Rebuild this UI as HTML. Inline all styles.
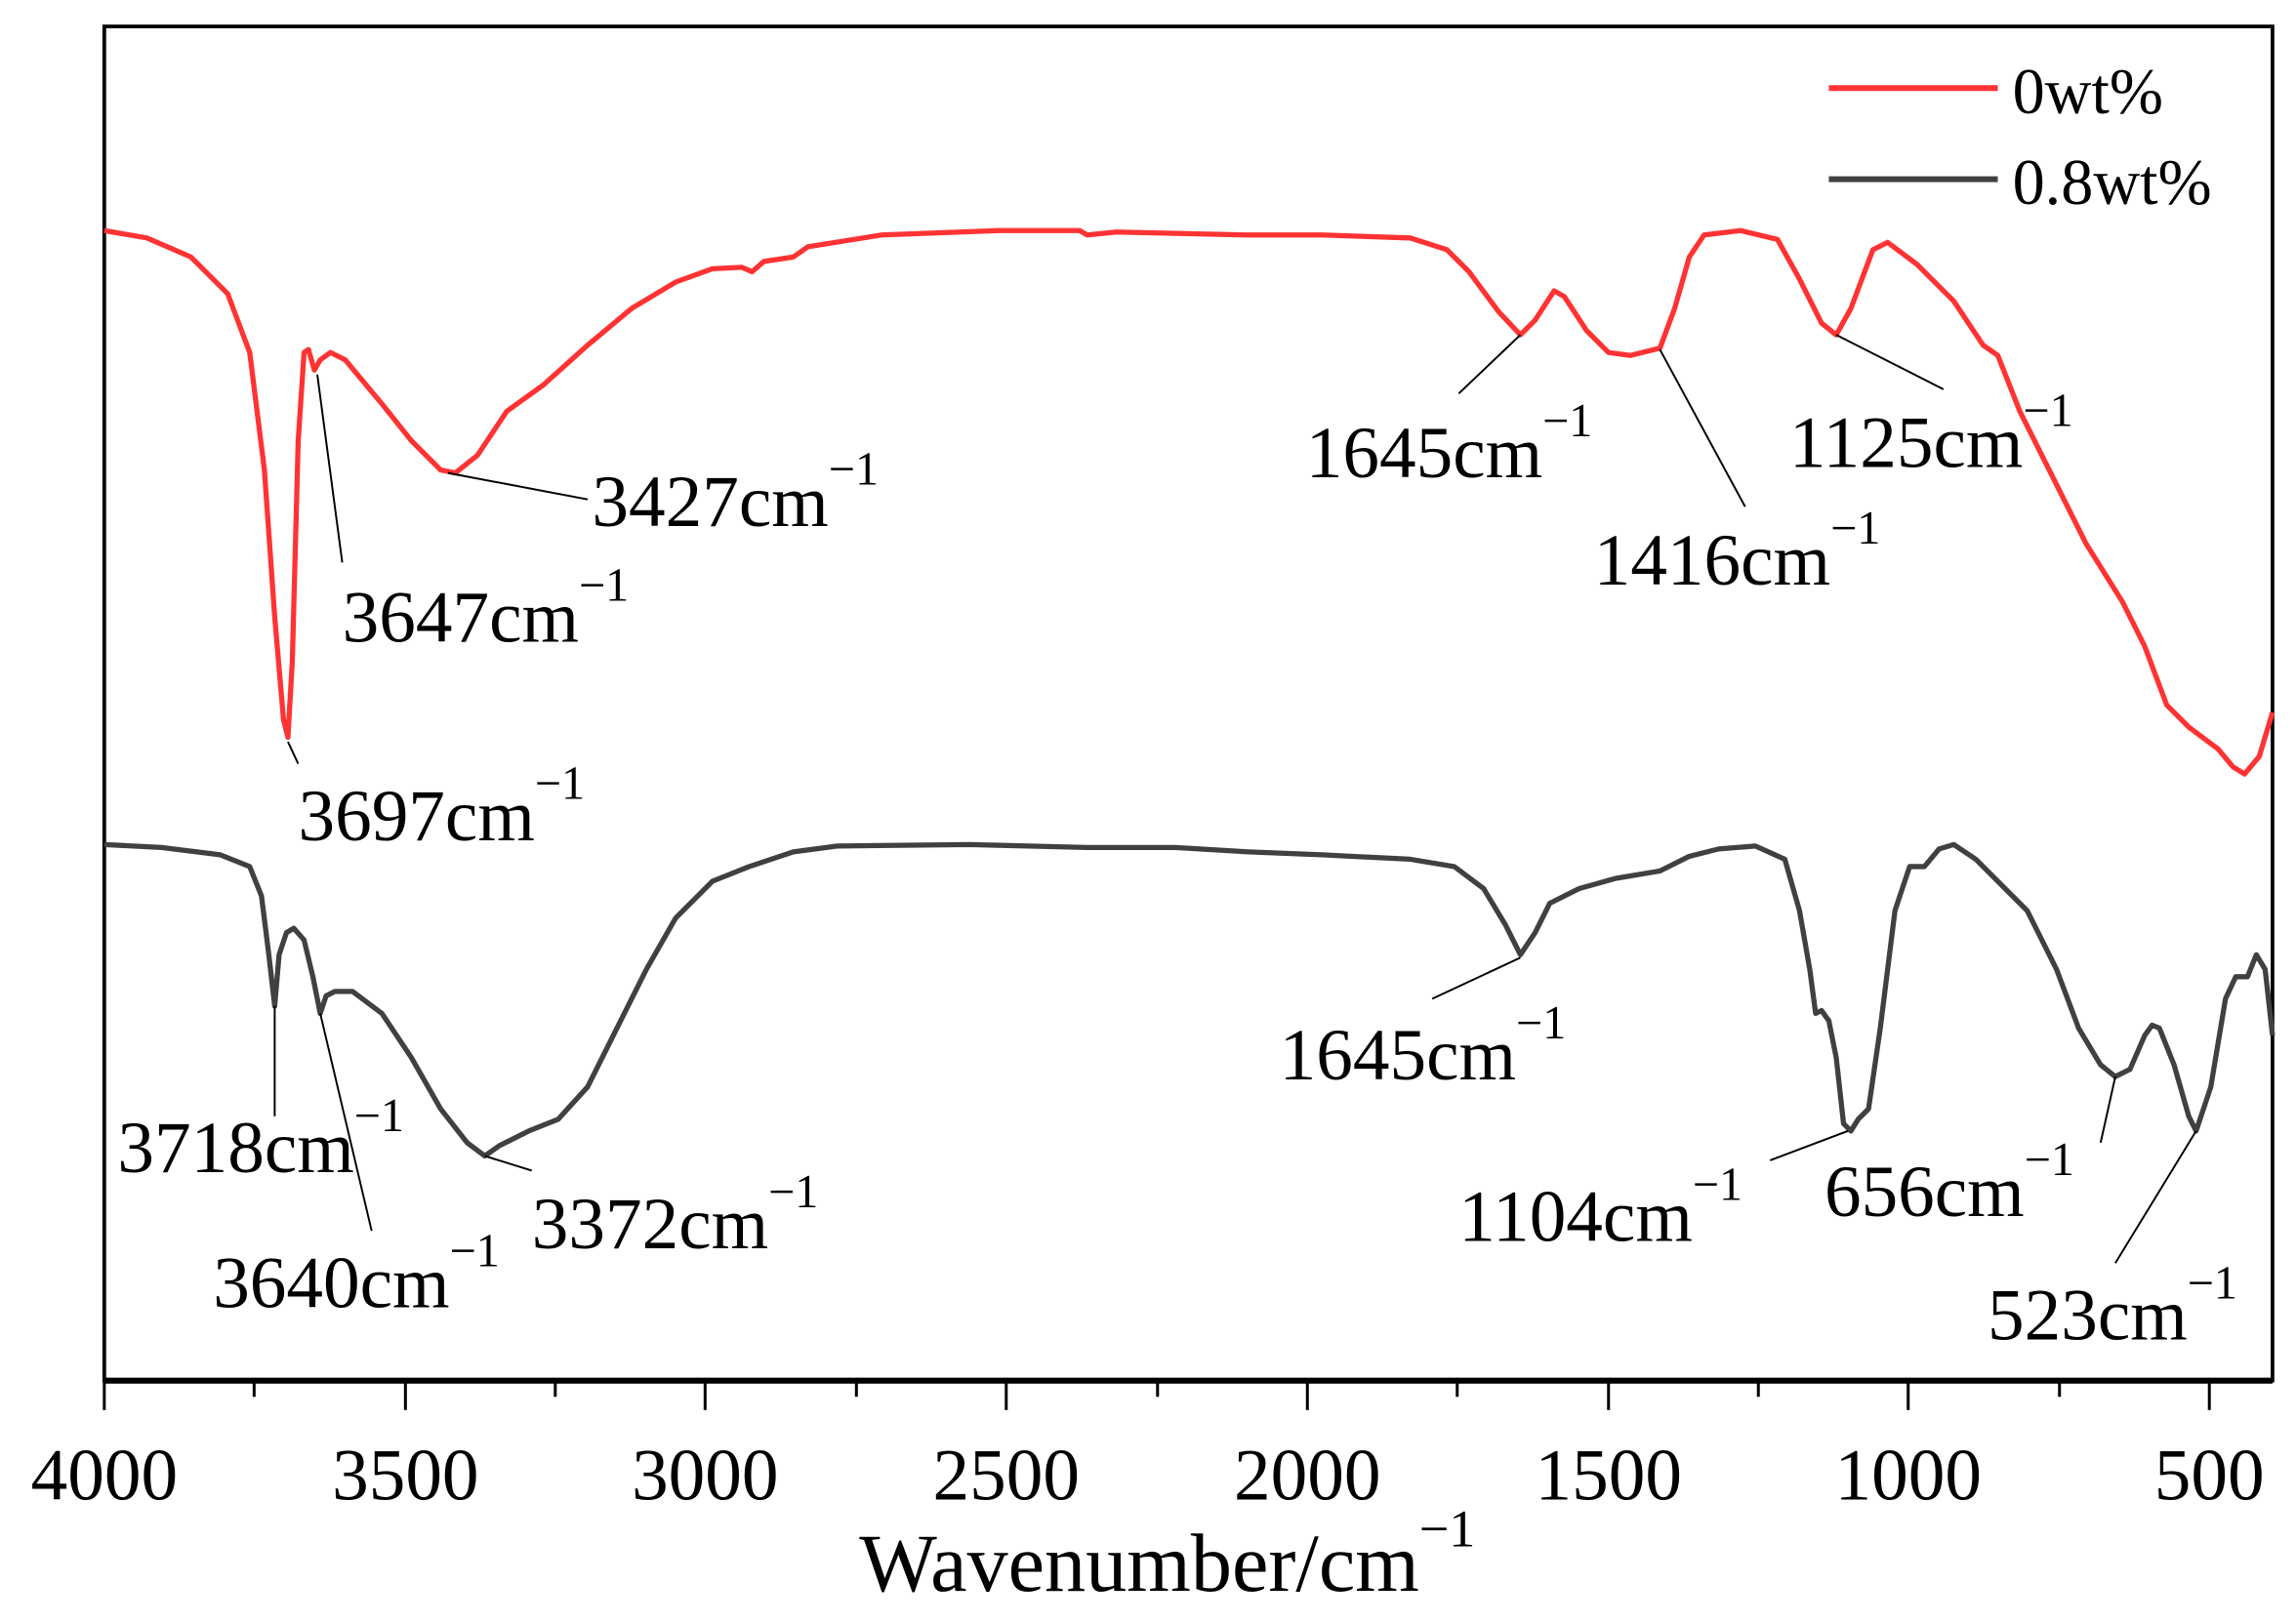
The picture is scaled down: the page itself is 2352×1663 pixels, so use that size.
<!DOCTYPE html>
<html><head><meta charset="utf-8"><style>
html,body{margin:0;padding:0;background:#fff;}
svg{display:block;}
text{font-family:"Liberation Serif",serif;fill:#000;}
</style></head><body>
<svg width="2352" height="1663" viewBox="0 0 1563 1105" preserveAspectRatio="none" xmlns="http://www.w3.org/2000/svg">
<rect x="71" y="18" width="1476" height="922" fill="none" stroke="#000" stroke-width="2.5"/>
<line x1="71" y1="940" x2="1547" y2="940" stroke="#000" stroke-width="4"/>
<g stroke="#000" stroke-width="2">
<line x1="71" y1="940" x2="71" y2="960"/><line x1="173" y1="940" x2="173" y2="951"/>
<line x1="276" y1="940" x2="276" y2="960"/><line x1="378" y1="940" x2="378" y2="951"/>
<line x1="480" y1="940" x2="480" y2="960"/><line x1="583" y1="940" x2="583" y2="951"/>
<line x1="685" y1="940" x2="685" y2="960"/><line x1="788" y1="940" x2="788" y2="951"/>
<line x1="890" y1="940" x2="890" y2="960"/><line x1="992" y1="940" x2="992" y2="951"/>
<line x1="1095" y1="940" x2="1095" y2="960"/><line x1="1197" y1="940" x2="1197" y2="951"/>
<line x1="1299" y1="940" x2="1299" y2="960"/><line x1="1402" y1="940" x2="1402" y2="951"/>
<line x1="1504" y1="940" x2="1504" y2="960"/>
</g>
<g font-size="50" text-anchor="middle">
<text x="71" y="1021">4000</text><text x="276" y="1021">3500</text><text x="480" y="1021">3000</text>
<text x="685" y="1021">2500</text><text x="890" y="1021">2000</text><text x="1095" y="1021">1500</text>
<text x="1299" y="1021">1000</text><text x="1504" y="1021">500</text>
</g>
<text x="585" y="1083" font-size="56">Wavenumber/cm<tspan font-size="36" dy="-30">−1</tspan></text>

<line x1="1245" y1="60" x2="1360" y2="60" stroke="#f33" stroke-width="4"/>
<text x="1370" y="77" font-size="44">0wt%</text>
<line x1="1245" y1="122" x2="1360" y2="122" stroke="#404040" stroke-width="4"/>
<text x="1370" y="139" font-size="44">0.8wt%</text>

<polyline fill="none" stroke="#f33" stroke-width="3.5" stroke-linejoin="round" points="71,157 100,162 130,175 155,200 170,240 180,320 187,420 193,490 196,502 199,450 203,300 207,240 210,238 214,252 218,245 225,240 235,245 260,275 280,300 300,320 310,322 325,310 345,280 370,262 400,235 430,210 460,192 485,183 505,182 512,185 520,178 540,175 550,168 600,160 680,157 735,157 740,160 760,158 850,160 900,160 960,162 985,170 1000,185 1020,212 1035,228 1045,218 1058,198 1065,202 1080,225 1095,240 1110,242 1130,237 1140,210 1150,175 1160,160 1185,157 1210,163 1225,190 1240,220 1250,228 1260,210 1275,170 1285,165 1305,180 1330,205 1350,235 1360,242 1375,280 1395,320 1420,370 1445,410 1460,440 1475,480 1490,495 1510,510 1520,522 1528,527 1538,515 1547,485"/>
<polyline fill="none" stroke="#404040" stroke-width="3.5" stroke-linejoin="round" points="71,575 110,577 150,582 170,590 178,610 183,650 187,685 190,650 195,635 200,632 207,640 213,665 218,690 222,678 228,675 240,675 260,690 280,720 300,755 318,778 330,787 340,780 360,770 380,762 400,740 420,700 440,660 460,625 485,600 510,590 540,580 570,576 660,575 700,576 740,577 800,577 850,580 900,582 960,585 990,590 1010,605 1025,630 1035,650 1045,635 1055,615 1075,605 1100,598 1130,593 1150,583 1170,578 1195,576 1215,585 1225,620 1232,660 1236,690 1240,688 1245,695 1250,720 1255,765 1260,770 1265,762 1272,755 1280,700 1290,620 1300,590 1310,590 1320,578 1330,575 1345,585 1360,600 1380,620 1400,660 1415,700 1430,725 1440,733 1450,728 1460,705 1465,698 1470,700 1480,725 1490,760 1495,770 1505,740 1515,680 1522,665 1530,665 1536,650 1542,660 1547,705"/>

<g stroke="#000" stroke-width="1.3">
<line x1="196" y1="505" x2="203" y2="520"/>
<line x1="216" y1="255" x2="233" y2="383"/>
<line x1="305" y1="322" x2="400" y2="340"/>
<line x1="1035" y1="228" x2="993" y2="268"/>
<line x1="1130" y1="238" x2="1188" y2="345"/>
<line x1="1250" y1="228" x2="1323" y2="265"/>
<line x1="187" y1="685" x2="187" y2="760"/>
<line x1="218" y1="690" x2="253" y2="838"/>
<line x1="330" y1="787" x2="362" y2="797"/>
<line x1="1035" y1="652" x2="975" y2="680"/>
<line x1="1258" y1="770" x2="1205" y2="790"/>
<line x1="1440" y1="733" x2="1430" y2="778"/>
<line x1="1495" y1="770" x2="1440" y2="860"/>
</g>
<g font-size="50">
<text x="203" y="572">3697cm<tspan font-size="32" dy="-28">−1</tspan></text>
<text x="233" y="437">3647cm<tspan font-size="32" dy="-28">−1</tspan></text>
<text x="403" y="358">3427cm<tspan font-size="32" dy="-28">−1</tspan></text>
<text x="889" y="325">1645cm<tspan font-size="32" dy="-28">−1</tspan></text>
<text x="1085" y="398">1416cm<tspan font-size="32" dy="-28">−1</tspan></text>
<text x="1218" y="318">1125cm<tspan font-size="32" dy="-28">−1</tspan></text>
<text x="80" y="798">3718cm<tspan font-size="32" dy="-28">−1</tspan></text>
<text x="145" y="890">3640cm<tspan font-size="32" dy="-28">−1</tspan></text>
<text x="362" y="850">3372cm<tspan font-size="32" dy="-28">−1</tspan></text>
<text x="871" y="735">1645cm<tspan font-size="32" dy="-28">−1</tspan></text>
<text x="993" y="845">1104cm<tspan font-size="32" dy="-28">−1</tspan></text>
<text x="1242" y="828">656cm<tspan font-size="32" dy="-28">−1</tspan></text>
<text x="1353" y="912">523cm<tspan font-size="32" dy="-28">−1</tspan></text>
</g>
</svg>
</body></html>
